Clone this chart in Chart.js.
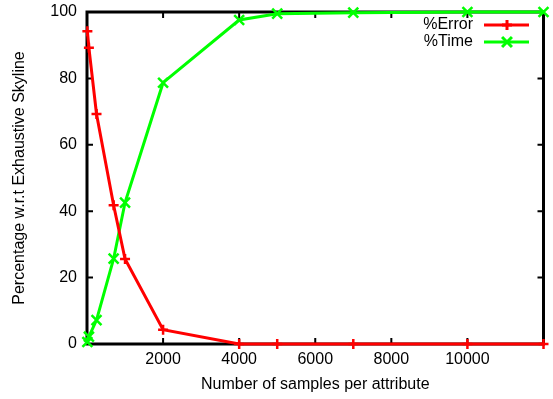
<!DOCTYPE html>
<html>
<head>
<meta charset="utf-8">
<script src="https://cdn.jsdelivr.net/npm/chart.js@4/dist/chart.umd.min.js"></script>
<style>
  html, body { margin: 0; padding: 0; background: #fff; }
  #wrap { width: 553px; height: 399px; }
</style>
</head>
<body>
<div id="wrap"><canvas id="chart" width="553" height="399"></canvas></div>
<script>
// values
const samples = [10, 50, 250, 700, 1000, 2000, 4000, 5000, 7000, 10000, 12000];
const errorPct = [94.2, 89.2, 69.3, 41.8, 25.6, 4.3, 0, 0, 0, 0, 0];
const timePct = [0.6, 2.2, 7.2, 25.7, 42.6, 78.7, 97.6, 99.5, 99.8, 100, 100];
const xTicks = [2000, 4000, 6000, 8000, 10000];
const yTicks = [0, 20, 40, 60, 80, 100];

const FONT = 'Liberation Sans, Arial, Helvetica, sans-serif';

// gnuplot style frame with inward ticks on all four sides
const framePlugin = {
  id: 'frame',
  beforeDatasetsDraw(chart) {
    const { ctx, chartArea: a, scales } = chart;
    ctx.save();
    ctx.strokeStyle = '#000';
    ctx.lineWidth = 3;
    ctx.strokeRect(a.left, a.top, a.right - a.left, a.bottom - a.top);
    const len = 6;
    ctx.lineWidth = 2;
    ctx.beginPath();
    xTicks.forEach(v => {
      const x = scales.x.getPixelForValue(v);
      ctx.moveTo(x, a.bottom); ctx.lineTo(x, a.bottom - len);
      ctx.moveTo(x, a.top); ctx.lineTo(x, a.top + len);
    });
    yTicks.forEach(v => {
      const y = scales.y.getPixelForValue(v);
      ctx.moveTo(a.left, y); ctx.lineTo(a.left + len, y);
      ctx.moveTo(a.right, y); ctx.lineTo(a.right - len, y);
    });
    ctx.stroke();
    ctx.restore();
  }
};

// key in the top right corner, like gnuplot draws it
const keyPlugin = {
  id: 'key',
  afterDraw(chart) {
    const { ctx } = chart;
    ctx.save();
    ctx.font = '16px ' + FONT;
    ctx.textAlign = 'right';
    ctx.textBaseline = 'middle';
    chart.data.datasets.forEach((ds, i) => {
      const y = 25 + i * 17;
      ctx.fillStyle = '#000';
      ctx.fillText(ds.label, 473, y);
      ctx.strokeStyle = ds.borderColor;
      ctx.lineWidth = 3;
      ctx.beginPath();
      ctx.moveTo(484, y); ctx.lineTo(529, y);
      ctx.stroke();
      Chart.helpers.drawPoint(ctx, {
        pointStyle: ds.pointStyle, radius: ds.pointRadius, rotation: 0, borderWidth: 2.5
      }, 507, y);
    });
    ctx.restore();
  }
};

new Chart(document.getElementById('chart'), {
  type: 'line',
  data: {
    datasets: [{
      label: '%Error',
      data: samples.map((x, i) => ({ x: x, y: errorPct[i] })),
      borderColor: '#ff0000',
      backgroundColor: '#ff0000',
      borderWidth: 3,
      pointStyle: 'cross',
      pointRadius: 5,
      pointBorderWidth: 2.5,
      tension: 0,
      clip: false
    }, {
      label: '%Time',
      data: samples.map((x, i) => ({ x: x, y: timePct[i] })),
      borderColor: '#00ff00',
      backgroundColor: '#00ff00',
      borderWidth: 3,
      pointStyle: 'crossRot',
      pointRadius: 7,
      pointBorderWidth: 2.5,
      tension: 0,
      clip: false
    }]
  },
  options: {
    responsive: false,
    animation: false,
    layout: { padding: { top: 12, right: 5, left: 0, bottom: 0 } },
    plugins: {
      legend: { display: false },
      tooltip: { enabled: false }
    },
    scales: {
      x: {
        type: 'linear',
        min: 0,
        max: 12000,
        grid: { display: false, drawTicks: false },
        border: { display: false },
        afterBuildTicks(scale) {
          scale.ticks = xTicks.map(v => ({ value: v }));
        },
        afterFit(scale) {
          scale.height = 55;
          scale.paddingLeft = 0;
          scale.paddingRight = 0;
        },
        ticks: {
          padding: 6,
          color: '#000',
          maxRotation: 0,
          font: { family: FONT, size: 16 },
          callback: v => String(v)
        },
        title: {
          display: true,
          text: 'Number of samples per attribute',
          color: '#000',
          font: { family: FONT, size: 16 },
          padding: { top: 0, bottom: 5 }
        }
      },
      y: {
        min: 0,
        max: 100,
        grid: { display: false, drawTicks: false },
        border: { display: false },
        afterBuildTicks(scale) {
          scale.ticks = yTicks.map(v => ({ value: v }));
        },
        afterFit(scale) {
          scale.width = 87;
          scale.paddingTop = 0;
          scale.paddingBottom = 0;
        },
        ticks: {
          padding: 10,
          color: '#000',
          font: { family: FONT, size: 16 }
        },
        title: {
          display: true,
          text: 'Percentage w.r.t Exhaustive Skyline',
          color: '#000',
          font: { family: FONT, size: 16 },
          padding: { top: 10, bottom: 0 }
        }
      }
    }
  },
  plugins: [framePlugin, keyPlugin]
});
</script>
</body>
</html>
